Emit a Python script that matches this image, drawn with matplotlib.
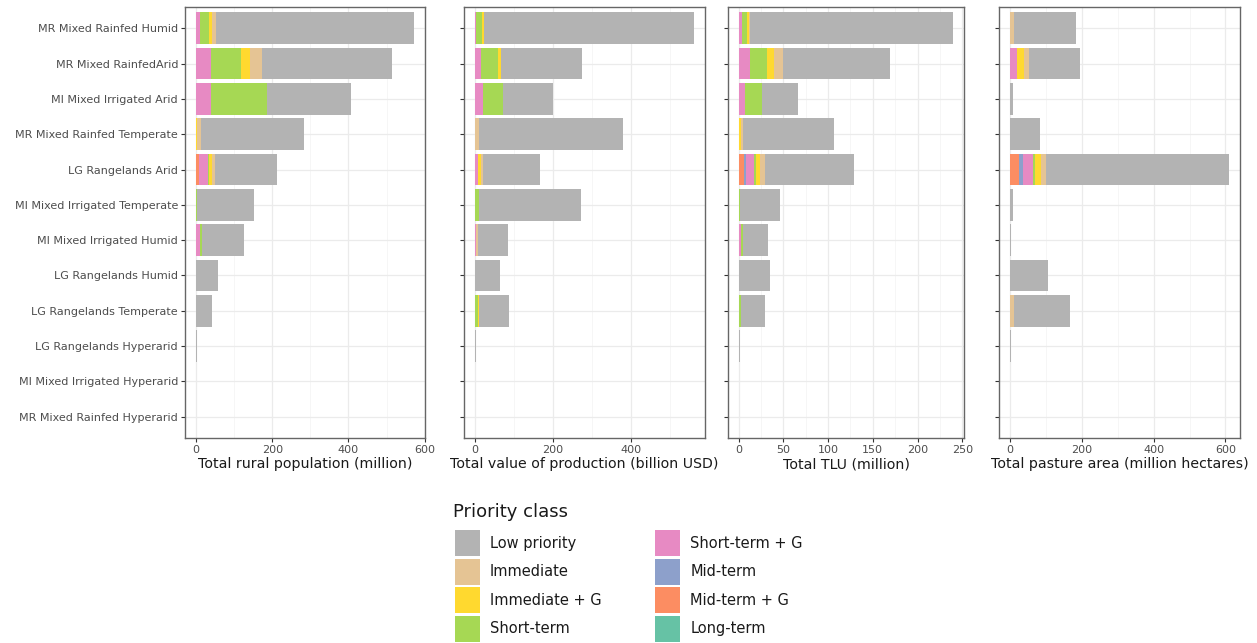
import matplotlib.pyplot as plt
import numpy as np
from matplotlib.patches import Patch
from matplotlib.ticker import MultipleLocator, AutoMinorLocator

# farming systems, top to bottom
systems = ['MR Mixed Rainfed Humid', 'MR Mixed RainfedArid', 'MI Mixed Irrigated Arid',
           'MR Mixed Rainfed Temperate', 'LG Rangelands Arid', 'MI Mixed Irrigated Temperate',
           'MI Mixed Irrigated Humid', 'LG Rangelands Humid', 'LG Rangelands Temperate',
           'LG Rangelands Hyperarid', 'MI Mixed Irrigated Hyperarid', 'MR Mixed Rainfed Hyperarid']

# stacking order, left to right
classes = ['Long-term', 'Mid-term + G', 'Mid-term', 'Short-term + G', 'Short-term',
           'Immediate + G', 'Immediate', 'Low priority']
colors = {'Low priority': '#B3B3B3', 'Immediate': '#E5C494', 'Immediate + G': '#FFD92F',
          'Short-term': '#A6D854', 'Short-term + G': '#E78AC3', 'Mid-term': '#8DA0CB',
          'Mid-term + G': '#FC8D62', 'Long-term': '#66C2A5'}
legend_order = ['Low priority', 'Immediate', 'Immediate + G', 'Short-term',
                'Short-term + G', 'Mid-term', 'Mid-term + G', 'Long-term']

# Total rural population (million)
pop = {
    'Mid-term + G':   [0, 0, 0, 0, 8, 0, 0, 0, 0, 0, 0, 0],
    'Short-term + G': [10, 40, 40, 0, 23, 0, 10, 0, 0, 1.5, 0, 0],
    'Short-term':     [25, 79, 146, 0, 3, 3, 7, 0, 0, 0, 0, 0],
    'Immediate + G':  [7, 22, 0, 4, 8, 0, 0, 0, 1, 0, 0, 0],
    'Immediate':      [10, 31, 0, 9, 7, 0, 0, 0, 0, 0, 0, 0],
    'Low priority':   [520, 342, 221, 271, 163, 150, 110, 57, 40, 0.5, 0, 0],
}

# Total value of production (billion USD)
vop = {
    'Short-term + G': [2, 15, 20, 0, 9, 0, 3, 0, 0, 0, 0, 0],
    'Short-term':     [16, 43, 51, 0, 0, 10, 0, 0, 8, 0, 0, 0],
    'Immediate + G':  [6, 9, 0, 0, 6, 0, 0, 0, 2, 0, 0, 0],
    'Immediate':      [0, 0, 0, 11, 5, 0, 6, 0, 0, 0, 0, 0],
    'Low priority':   [538, 208, 129, 368, 148, 261, 75, 63, 77, 2, 0, 0],
}

# Total TLU (million)
tlu = {
    'Mid-term + G':   [0, 0, 0, 0, 6, 0, 0, 0, 0, 0, 0, 0],
    'Mid-term':       [0, 0, 0, 0, 2, 0, 0, 0, 0, 0, 0, 0],
    'Short-term + G': [4, 13, 7, 0, 9, 0, 2, 0, 0, 0.5, 0, 0],
    'Short-term':     [5, 19, 19, 0, 2, 1, 3, 0, 2, 0, 0, 0],
    'Immediate + G':  [2, 7, 0, 2, 5, 0, 0, 0, 0, 0, 0, 0],
    'Immediate':      [2, 11, 0, 3, 5, 0, 0, 0, 0, 0, 0, 0],
    'Low priority':   [227, 119, 40, 102, 100, 45, 28, 35, 27, 1, 0, 0],
}

# Total pasture area (million hectares)
pasture = {
    'Mid-term + G':   [0, 0, 0, 0, 24, 0, 0, 0, 0, 0, 0, 0],
    'Mid-term':       [0, 0, 0, 0, 11, 0, 0, 0, 0, 0, 0, 0],
    'Short-term + G': [0, 21, 0, 0, 28, 0, 0, 0, 0, 0, 0, 0],
    'Short-term':     [0, 0, 0, 0, 8, 0, 0, 0, 0, 0, 0, 0],
    'Immediate + G':  [0, 19, 0, 0, 16, 0, 0, 0, 0, 0, 0, 0],
    'Immediate':      [10, 12, 0, 0, 14, 0, 0, 0, 10, 0, 0, 0],
    'Low priority':   [173, 144, 9, 84, 509, 9, 3, 105, 156, 4, 0, 0],
}

panels = [(pop, 'Total rural population (million)', 200),
          (vop, 'Total value of production (billion USD)', 200),
          (tlu, 'Total TLU (million)', 50),
          (pasture, 'Total pasture area (million hectares)', 200)]

W, H = 1257, 643
fig = plt.figure(figsize=(W / 100, H / 100), dpi=100)

# panel edges in pixels
lefts = [185, 464, 728, 999]
rights = [425, 705, 964, 1240]
top, bottom = 7, 438

ypos = np.arange(len(systems))

for i, (data, xlabel, step) in enumerate(panels):
    ax = fig.add_axes([lefts[i] / W, 1 - bottom / H, (rights[i] - lefts[i]) / W, (bottom - top) / H])
    left = np.zeros(len(systems))
    for c in classes:
        if c in data:
            v = np.array(data[c], dtype=float)
            ax.barh(ypos, v, left=left, height=0.9, color=colors[c], linewidth=0, zorder=2)
            left += v
    xmax = left.max()
    ax.set_xlim(-0.05 * xmax, 1.05 * xmax)
    ax.set_ylim(len(systems) - 0.4, -0.6)

    ax.xaxis.set_major_locator(MultipleLocator(step))
    ax.xaxis.set_minor_locator(AutoMinorLocator(2))
    ax.set_yticks(ypos)
    ax.set_axisbelow(True)
    ax.grid(which='major', color='#EBEBEB', linewidth=0.9, zorder=0)
    ax.grid(which='minor', axis='x', color='#F3F3F3', linewidth=0.5, zorder=0)

    for s in ax.spines.values():
        s.set_color('#666666')
        s.set_linewidth(1.0)
    ax.tick_params(which='major', length=3, color='#333333', labelsize=8,
                   labelcolor='#4D4D4D', pad=2)
    ax.tick_params(which='minor', length=0)

    if i == 0:
        ax.set_yticklabels(systems)
    else:
        ax.tick_params(axis='y', labelleft=False)
    ax.set_xlabel(xlabel, fontsize=10.2, color='#1A1A1A', labelpad=1.5)

# legend title drawn on its own so the gap to the keys can be set
fig.text(453 / W, 1 - 512 / H, 'Priority class', fontsize=13, color='#1A1A1A',
         ha='left', va='center')

handles = [Patch(facecolor=colors[c], edgecolor='none', label=c) for c in legend_order]
fig.legend(handles=handles, ncol=2, frameon=False,
           loc='upper left', bbox_to_anchor=(455 / W, 1 - 530 / H),
           fontsize=10.5, handlelength=1.71, handleheight=2.37, labelspacing=0.17,
           handletextpad=0.68, columnspacing=3.7, borderpad=0, borderaxespad=0,
           labelcolor='#1A1A1A')

plt.savefig('out.png', dpi=100)
